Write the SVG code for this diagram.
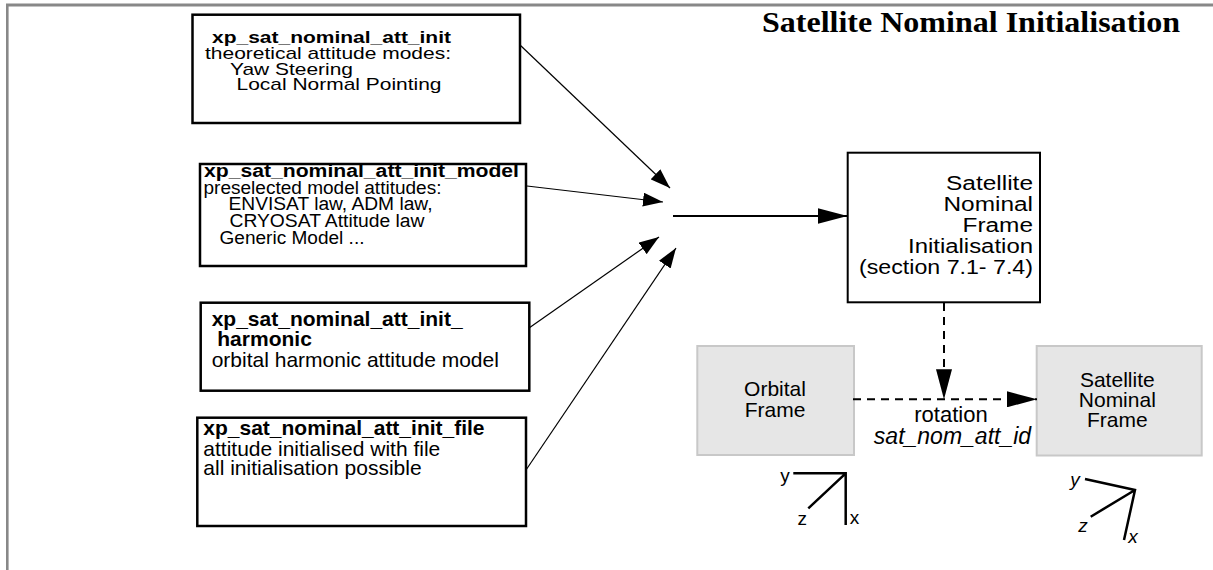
<svg xmlns="http://www.w3.org/2000/svg" width="1213" height="570" viewBox="0 0 1213 570">
<defs>
<style>
.t{font-family:"Liberation Sans",Arial,sans-serif;fill:#000}
.b{font-weight:bold}
.i{font-style:italic}
.box{fill:#fff;stroke:#000;stroke-width:2.5}
.gbox{fill:#e6e6e6;stroke:#c8c8c8;stroke-width:2}
.thin{fill:none;stroke:#000;stroke-width:1.2}
.thick{fill:none;stroke:#000;stroke-width:2}
.dash{fill:none;stroke:#000;stroke-width:2;stroke-dasharray:8 6}
.axis{fill:none;stroke:#000;stroke-width:2.5}
</style>
<marker id="ah" markerUnits="userSpaceOnUse" markerWidth="20" markerHeight="14" refX="20" refY="7" orient="auto"><path d="M0,0 L20,7 L0,14 z" fill="#000"/></marker>
<marker id="ahL" markerUnits="userSpaceOnUse" markerWidth="30" markerHeight="16" refX="30" refY="8" orient="auto"><path d="M0,0 L30,8 L0,16 z" fill="#000"/></marker>
</defs>
<g id="frame">
<line x1="6" y1="5" x2="1213" y2="5" stroke="#888" stroke-width="3"/>
<line x1="7.3" y1="4" x2="7.3" y2="570" stroke="#888" stroke-width="2.6"/>
</g>
<g id="title">
<text class="b" x="762" y="32" font-family="Liberation Serif,Times New Roman,serif" font-size="30" textLength="418" lengthAdjust="spacingAndGlyphs">Satellite Nominal Initialisation</text>
</g>
<g id="box1">
<rect class="box" x="192.5" y="14.7" width="327.5" height="108.3"/>
<text class="t b" x="212" y="43" font-size="17" textLength="239" lengthAdjust="spacingAndGlyphs">xp_sat_nominal_att_init</text>
<text class="t" x="205" y="58.5" font-size="17" textLength="246" lengthAdjust="spacingAndGlyphs">theoretical attitude modes:</text>
<text class="t" x="230" y="74.5" font-size="17" textLength="123" lengthAdjust="spacingAndGlyphs">Yaw Steering</text>
<text class="t" x="236.5" y="90" font-size="17" textLength="205" lengthAdjust="spacingAndGlyphs">Local Normal Pointing</text>
</g>
<g id="box2">
<rect class="box" x="200" y="164" width="326" height="102"/>
<text class="t b" x="204" y="177" font-size="18" textLength="315" lengthAdjust="spacingAndGlyphs">xp_sat_nominal_att_init_model</text>
<text class="t" x="203.5" y="193.5" font-size="18" textLength="238" lengthAdjust="spacingAndGlyphs">preselected model attitudes:</text>
<text class="t" x="228.5" y="210" font-size="18" textLength="204" lengthAdjust="spacingAndGlyphs">ENVISAT law, ADM law,</text>
<text class="t" x="229.5" y="227" font-size="18" textLength="195" lengthAdjust="spacingAndGlyphs">CRYOSAT Attitude law</text>
<text class="t" x="219.5" y="244" font-size="18" textLength="145" lengthAdjust="spacingAndGlyphs">Generic Model ...</text>
</g>
<g id="box3">
<rect class="box" x="200.7" y="302.7" width="328.6" height="88"/>
<text class="t b" x="211.7" y="326" font-size="21">xp_sat_nominal_att_init_</text>
<text class="t b" x="217.3" y="346" font-size="21">harmonic</text>
<text class="t" x="211.7" y="367" font-size="21">orbital harmonic attitude model</text>
</g>
<g id="box4">
<rect class="box" x="197.3" y="417.7" width="328.7" height="108.3"/>
<text class="t b" x="203.3" y="434.5" font-size="21">xp_sat_nominal_att_init_file</text>
<text class="t" x="203.3" y="455.5" font-size="21">attitude initialised with file</text>
<text class="t" x="203.3" y="475" font-size="21">all initialisation possible</text>
</g>
<g id="init">
<rect fill="#fff" stroke="#000" stroke-width="2" x="847.7" y="152.7" width="192.3" height="149.6"/>
<text class="t" x="946" y="190" font-size="20" textLength="87" lengthAdjust="spacingAndGlyphs">Satellite</text>
<text class="t" x="943.5" y="211" font-size="20" textLength="89.5" lengthAdjust="spacingAndGlyphs">Nominal</text>
<text class="t" x="962.5" y="232" font-size="20" textLength="70.5" lengthAdjust="spacingAndGlyphs">Frame</text>
<text class="t" x="908" y="253" font-size="20" textLength="125" lengthAdjust="spacingAndGlyphs">Initialisation</text>
<text class="t" x="859" y="274" font-size="20" textLength="174" lengthAdjust="spacingAndGlyphs">(section 7.1- 7.4)</text>
</g>
<g id="orbital">
<rect class="gbox" x="697.3" y="346" width="156.7" height="109"/>
<text class="t" x="775" y="395.5" font-size="21" text-anchor="middle">Orbital</text>
<text class="t" x="775" y="416.5" font-size="21" text-anchor="middle">Frame</text>
</g>
<g id="satnom">
<rect class="gbox" x="1036.7" y="346" width="165" height="109.5"/>
<text class="t" x="1117.3" y="386.7" font-size="21" text-anchor="middle">Satellite</text>
<text class="t" x="1117.3" y="406.7" font-size="21" text-anchor="middle">Nominal</text>
<text class="t" x="1117.3" y="426.7" font-size="21" text-anchor="middle">Frame</text>
</g>
<g id="connectors">
<line class="thin" x1="520" y1="45" x2="670" y2="188" marker-end="url(#ah)"/>
<line class="thin" x1="527" y1="186" x2="663" y2="202" marker-end="url(#ah)"/>
<line class="thin" x1="529" y1="328" x2="659" y2="237" marker-end="url(#ah)"/>
<line class="thin" x1="526" y1="470" x2="676" y2="248" marker-end="url(#ah)"/>
<line class="thick" x1="673" y1="216" x2="847.5" y2="216" marker-end="url(#ahL)"/>
<line class="dash" x1="944" y1="303" x2="944" y2="399.3" marker-end="url(#ahL)"/>
<line class="dash" x1="853" y1="399.3" x2="1037" y2="399.3" marker-end="url(#ahL)"/>
<text class="t" x="951" y="421.7" font-size="22" text-anchor="middle">rotation</text>
<text class="t i" x="952.5" y="444" font-size="23" text-anchor="middle">sat_nom_att_id</text>
</g>
<g id="axes-orbital">
<path class="axis" d="M793.3,473.3 H845.7 V525 M845.7,473.3 L808.3,508.3"/>
<text class="t" x="785" y="481.7" font-size="19" text-anchor="middle">y</text>
<text class="t" x="802.3" y="525" font-size="19" text-anchor="middle">z</text>
<text class="t" x="854.5" y="524" font-size="19" text-anchor="middle">x</text>
</g>
<g id="axes-satnom">
<path class="axis" d="M1085,479 L1135,490 L1124,540 M1135,490 L1090.7,516.7"/>
<text class="t i" x="1075" y="486" font-size="19" text-anchor="middle">y</text>
<text class="t i" x="1083" y="531.7" font-size="19" text-anchor="middle">z</text>
<text class="t i" x="1133" y="543" font-size="19" text-anchor="middle">x</text>
</g>
</svg>
